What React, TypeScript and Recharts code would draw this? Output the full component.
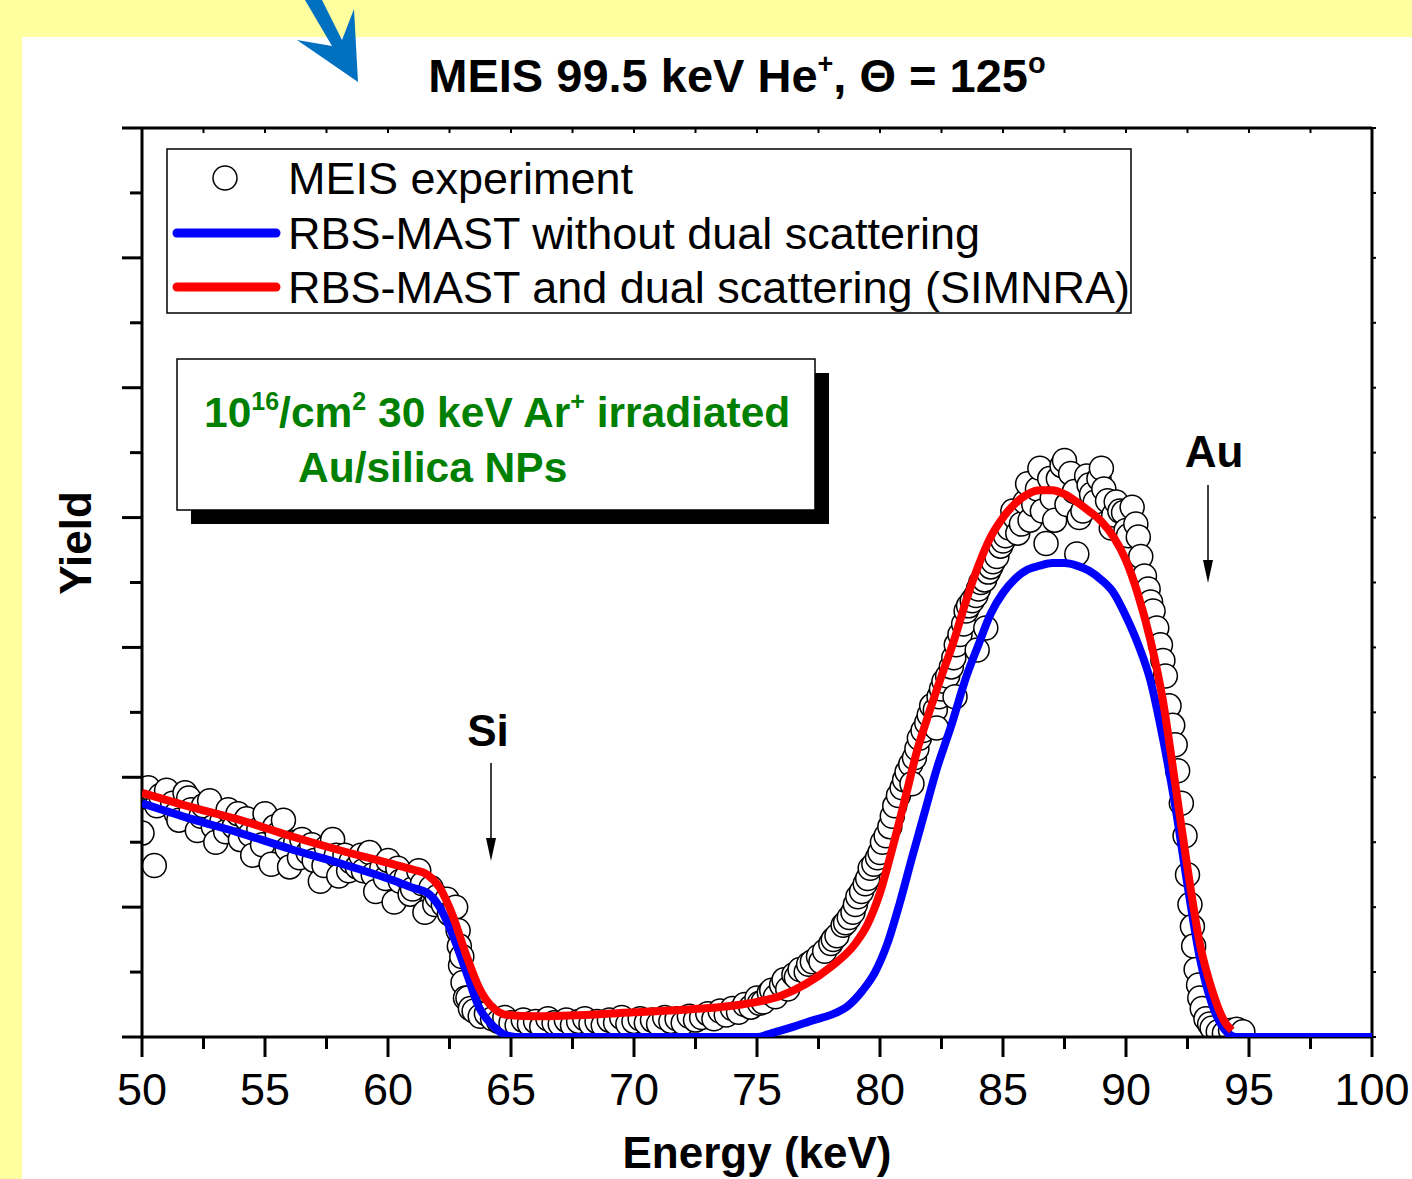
import React from "react";
import { ComposedChart, Line, Scatter, XAxis, YAxis } from "recharts";

const FONT = '"Liberation Sans", Arial, sans-serif';

// energy axis (keV) and yield axis (arbitrary units, no labels)
const energyTicks = [50, 52.5, 55, 57.5, 60, 62.5, 65, 67.5, 70, 72.5, 75, 77.5, 80, 82.5, 85, 87.5, 90, 92.5, 95, 97.5, 100];
const energyLabels = [50, 55, 60, 65, 70, 75, 80, 85, 90, 95, 100];
const yieldTicks = [0, 0.5, 1, 1.5, 2, 2.5, 3, 3.5, 4, 4.5, 5, 5.5, 6, 6.5, 7];

// RBS-MAST without dual scattering
const blueCurve: [number, number][] = [
  [50, 1.8], [52, 1.68], [54, 1.57], [56, 1.45], [58, 1.34], [60, 1.22], [61, 1.15], [61.6, 1.11],
  [62.1, 1.0], [62.6, 0.8], [63.2, 0.49], [63.7, 0.23], [64.3, 0.08], [64.85, 0.01], [65.2, 0],
  [70, 0], [75, 0], [75.6, 0.03], [76.5, 0.08], [77.3, 0.13], [78, 0.17], [78.7, 0.24], [79.3, 0.36],
  [79.8, 0.5], [80.3, 0.72], [80.8, 1.03], [81.3, 1.38], [81.8, 1.72], [82.3, 2.06], [82.9, 2.4],
  [83.5, 2.77], [84, 3.02], [84.5, 3.26], [85, 3.42], [85.5, 3.53], [86, 3.6], [86.5, 3.63],
  [87, 3.65], [87.5, 3.65], [88, 3.63], [88.5, 3.59], [89, 3.52], [89.5, 3.42], [90, 3.24],
  [90.5, 3.02], [91, 2.74], [91.5, 2.3], [92, 1.78], [92.5, 1.17], [93, 0.61], [93.5, 0.25],
  [94, 0.06], [94.5, 0], [97, 0], [100, 0],
];

// RBS-MAST and dual scattering (SIMNRA)
const redCurve: [number, number][] = [
  [50, 1.88], [52, 1.77], [54, 1.67], [56, 1.55], [58, 1.44], [60, 1.34], [61, 1.29], [61.6, 1.25],
  [62.1, 1.15], [62.6, 0.95], [63.2, 0.62], [63.7, 0.38], [64.3, 0.22], [64.85, 0.17], [66, 0.16],
  [68, 0.17], [70, 0.19], [72, 0.21], [74, 0.24], [75, 0.27], [76, 0.32], [77, 0.41], [78, 0.54],
  [79, 0.72], [79.5, 0.87], [80, 1.11], [80.5, 1.45], [81, 1.82], [81.5, 2.2], [82, 2.5],
  [82.5, 2.78], [83, 3.05], [83.5, 3.36], [84, 3.63], [84.5, 3.85], [85, 4.0], [85.5, 4.11],
  [86, 4.18], [86.5, 4.21], [87, 4.21], [87.5, 4.18], [88, 4.12], [88.5, 4.05], [89, 3.97],
  [89.5, 3.85], [90, 3.67], [90.5, 3.4], [91, 3.05], [91.5, 2.59], [92, 1.95], [92.5, 1.3],
  [93, 0.72], [93.5, 0.36], [94, 0.12], [94.3, 0.05],
];

// MEIS experiment
const measured: [number, number][] = [
  [50, 1.57], [50.1, 1.85], [50.25, 1.92], [50.5, 1.32], [50.6, 1.78], [50.75, 1.86], [51, 1.9], [51.25, 1.8],
  [51.4, 1.72], [51.5, 1.67], [51.75, 1.88], [51.9, 1.84], [52, 1.75], [52.25, 1.59], [52.4, 1.7], [52.5, 1.78],
  [52.75, 1.82], [52.9, 1.62], [53, 1.5], [53.25, 1.66], [53.4, 1.58], [53.5, 1.75], [53.75, 1.62], [53.9, 1.72],
  [54, 1.52], [54.25, 1.68], [54.4, 1.56], [54.5, 1.4], [54.75, 1.6], [54.9, 1.48], [55, 1.72], [55.25, 1.33],
  [55.4, 1.62], [55.5, 1.56], [55.75, 1.67], [55.9, 1.45], [56, 1.31], [56.25, 1.5], [56.4, 1.38], [56.5, 1.52],
  [56.75, 1.42], [56.9, 1.48], [57, 1.36], [57.25, 1.2], [57.4, 1.32], [57.5, 1.46], [57.75, 1.52], [57.9, 1.4],
  [58, 1.24], [58.25, 1.4], [58.4, 1.28], [58.5, 1.35], [58.75, 1.31], [58.9, 1.4], [59, 1.28], [59.25, 1.42],
  [59.4, 1.25], [59.5, 1.12], [59.75, 1.3], [59.9, 1.22], [60, 1.36], [60.25, 1.04], [60.4, 1.3], [60.5, 1.2],
  [60.75, 1.23], [60.9, 1.1], [61, 1.14], [61.25, 1.28], [61.4, 1.18], [61.5, 0.96], [61.75, 1.15], [61.9, 1.02],
  [62, 1.08], [62.25, 1.02], [62.4, 1.06], [62.5, 0.95], [62.75, 1.0], [62.85, 0.82], [62.9, 0.7], [62.95, 0.55],
  [63, 0.62], [63.05, 0.42], [63.15, 0.3], [63.25, 0.3], [63.35, 0.22], [63.5, 0.2], [63.75, 0.16], [64, 0.18],
  [64.25, 0.14], [64.5, 0.12], [64.75, 0.15], [65, 0.11], [65.25, 0.09], [65.5, 0.13], [65.75, 0.1], [66, 0.12],
  [66.25, 0.08], [66.5, 0.14], [66.75, 0.11], [67, 0.1], [67.25, 0.13], [67.5, 0.09], [67.75, 0.12], [68, 0.14],
  [68.25, 0.1], [68.5, 0.12], [68.75, 0.09], [69, 0.13], [69.25, 0.11], [69.5, 0.15], [69.75, 0.1], [70, 0.12],
  [70.25, 0.14], [70.5, 0.11], [70.75, 0.13], [71, 0.1], [71.25, 0.15], [71.5, 0.12], [71.75, 0.14], [72, 0.11],
  [72.25, 0.16], [72.5, 0.13], [72.75, 0.15], [73, 0.18], [73.25, 0.14], [73.5, 0.2], [73.75, 0.17], [74, 0.22],
  [74.25, 0.19], [74.5, 0.25], [74.75, 0.23], [75, 0.3], [75.1, 0.26], [75.25, 0.27], [75.5, 0.34], [75.6, 0.36],
  [75.75, 0.31], [76, 0.4], [76.1, 0.44], [76.25, 0.37], [76.5, 0.48], [76.6, 0.46], [76.75, 0.52], [77, 0.5],
  [77.1, 0.56], [77.25, 0.58], [77.5, 0.62], [77.6, 0.58], [77.75, 0.66], [78, 0.72], [78.1, 0.75], [78.25, 0.78],
  [78.5, 0.86], [78.6, 0.88], [78.75, 0.92], [78.9, 0.96], [79, 1.02], [79.1, 1.08], [79.25, 1.12], [79.4, 1.18],
  [79.5, 1.22], [79.6, 1.3], [79.75, 1.33], [79.9, 1.38], [80, 1.42], [80.1, 1.5], [80.25, 1.55], [80.4, 1.62],
  [80.5, 1.7], [80.6, 1.78], [80.75, 1.86], [80.9, 1.92], [81, 1.98], [81.1, 2.04], [81.25, 2.1], [81.3, 1.95],
  [81.4, 2.15], [81.5, 2.22], [81.6, 2.3], [81.75, 2.36], [81.9, 2.42], [82, 2.48], [82.1, 2.55], [82.25, 2.52],
  [82.3, 2.38], [82.4, 2.62], [82.5, 2.68], [82.6, 2.74], [82.75, 2.78], [82.9, 2.85], [83, 2.92], [83.05, 2.62],
  [83.1, 3.02], [83.25, 3.1], [83.4, 3.18], [83.5, 3.28], [83.6, 3.32], [83.75, 3.36], [83.9, 3.4], [83.95, 2.98],
  [84, 3.45], [84.1, 3.5], [84.25, 3.52], [84.3, 3.15], [84.4, 3.58], [84.5, 3.62], [84.6, 3.66], [84.75, 3.7],
  [84.9, 3.78], [85, 3.82], [85.1, 3.86], [85.25, 3.92], [85.4, 4.05], [85.5, 4.0], [85.6, 3.88], [85.75, 3.95],
  [85.9, 4.12], [86, 4.26], [86.1, 3.98], [86.25, 4.1], [86.4, 4.22], [86.5, 4.38], [86.6, 4.05], [86.75, 3.8],
  [86.9, 4.3], [87, 4.15], [87.1, 3.98], [87.25, 4.3], [87.4, 4.4], [87.5, 4.44], [87.6, 4.1], [87.75, 4.34],
  [87.9, 4.2], [88, 3.72], [88.1, 4.0], [88.25, 4.05], [88.4, 4.32], [88.5, 4.25], [88.6, 4.18], [88.75, 4.12],
  [88.9, 4.3], [89, 4.38], [89.1, 4.22], [89.25, 4.13], [89.4, 3.92], [89.5, 4.02], [89.6, 4.12], [89.75, 4.05],
  [89.9, 4.04], [90, 3.9], [90.1, 3.86], [90.25, 4.08], [90.4, 3.95], [90.5, 3.85], [90.6, 3.7], [90.75, 3.55],
  [90.9, 3.45], [91, 3.35], [91.1, 3.28], [91.25, 3.15], [91.4, 3.02], [91.5, 2.9], [91.6, 2.78], [91.75, 2.55],
  [91.9, 2.4], [92, 2.25], [92.1, 2.05], [92.25, 1.8], [92.4, 1.55], [92.5, 1.25], [92.6, 1.02], [92.7, 0.85],
  [92.75, 0.7], [92.85, 0.52], [92.95, 0.4], [93, 0.3], [93.1, 0.22], [93.25, 0.14], [93.4, 0.1], [93.5, 0.07],
  [93.75, 0.04], [94, 0.03], [94.25, 0.05], [94.5, 0.06], [94.75, 0.04],
];

const toRows = (pts: [number, number][]) => pts.map(([e, y]) => ({ e, y }));
const blueData = toRows(blueCurve);
const redData = toRows(redCurve);
const expData = toRows(measured);

const isMajor = (v: number) => Math.abs(v - Math.round(v)) < 1e-6;

const BottomTick = (p: any) => {
  const v = p.payload.value;
  const major = energyLabels.includes(v);
  return (
    <g>
      <line x1={p.x} x2={p.x} y1={p.y} y2={p.y + (major ? 20 : 12)} stroke="#000" strokeWidth={3} />
      {major && (
        <text x={p.x} y={p.y + 68} textAnchor="middle" fontSize={45} fontFamily={FONT} fill="#000">
          {v}
        </text>
      )}
    </g>
  );
};

const LeftTick = (p: any) => {
  const len = isMajor(p.payload.value) ? 20 : 12;
  return <line x1={p.x} x2={p.x - len} y1={p.y} y2={p.y} stroke="#000" strokeWidth={3} />;
};

const TopTick = (p: any) => <line x1={p.x} x2={p.x} y1={p.y} y2={p.y + 5} stroke="#000" strokeWidth={2} />;
const RightTick = (p: any) => <line x1={p.x} x2={p.x + 4} y1={p.y} y2={p.y} stroke="#000" strokeWidth={2} />;

const OpenCircle = (p: any) => (
  <circle cx={p.cx} cy={p.cy} r={12} fill="#fff" stroke="#000" strokeWidth={1.5} />
);

const axisLine = { stroke: "#000", strokeWidth: 3 };

export default function App() {
  return (
    <div style={{ position: "absolute", left: 0, top: 0, width: 1412, height: 1179, background: "#ffff9f", overflow: "hidden", fontFamily: FONT }}>
      <div style={{ position: "absolute", left: 22, top: 37, right: 0, bottom: 0, background: "#fff" }} />
      <div style={{ position: "absolute", left: 0, top: 0 }}>
        <ComposedChart width={1412} height={1179} margin={{ top: 108, right: 0, bottom: 82, left: 82 }}>
          <XAxis xAxisId="b" dataKey="e" type="number" domain={[50, 100]} allowDataOverflow ticks={energyTicks}
            interval={0} height={60} axisLine={axisLine} tickLine={false} tickSize={0} tickMargin={0} tick={BottomTick} />
          <XAxis xAxisId="t" orientation="top" dataKey="e" type="number" domain={[50, 100]} allowDataOverflow ticks={energyTicks}
            interval={0} height={20} axisLine={axisLine} tickLine={false} tickSize={0} tickMargin={0} tick={TopTick} />
          <YAxis yAxisId="l" dataKey="y" type="number" domain={[0, 7]} allowDataOverflow ticks={yieldTicks}
            interval={0} width={60} axisLine={axisLine} tickLine={false} tickSize={0} tickMargin={0} tick={LeftTick} />
          <YAxis yAxisId="r" orientation="right" dataKey="y" type="number" domain={[0, 7]} allowDataOverflow ticks={yieldTicks}
            interval={0} width={40} axisLine={axisLine} tickLine={false} tickSize={0} tickMargin={0} tick={RightTick} />
          <Scatter xAxisId="b" yAxisId="l" data={expData} dataKey="y" shape={OpenCircle} isAnimationActive={false} zIndex={300} />
          <Line xAxisId="b" yAxisId="l" data={blueData} dataKey="y" type="monotone" stroke="#0000ff" strokeWidth={8}
            dot={false} activeDot={false} isAnimationActive={false} zIndex={700} />
          <Line xAxisId="b" yAxisId="l" data={redData} dataKey="y" type="monotone" stroke="#ff0000" strokeWidth={8}
            dot={false} activeDot={false} isAnimationActive={false} zIndex={710} />
        </ComposedChart>
      </div>
      <svg width={1412} height={1179} style={{ position: "absolute", left: 0, top: 0, pointerEvents: "none" }}>
        <polygon points="305,0 322,0 342,40 354,9 358,82 297,40 332,46" fill="#0070c0" />
        <text x={737} y={92} textAnchor="middle" fontSize={47} fontWeight="bold" fontFamily={FONT}>
          MEIS 99.5 keV He<tspan dy={-19} fontSize={27}>+</tspan><tspan dy={19}>, Θ = 125</tspan>
          <tspan dy={-19} fontSize={29}>o</tspan>
        </text>
        <text transform="translate(91,543) rotate(-90)" textAnchor="middle" fontSize={44} fontWeight="bold" fontFamily={FONT}>Yield</text>
        <text x={757} y={1168} textAnchor="middle" fontSize={44} fontWeight="bold" fontFamily={FONT}>Energy (keV)</text>

        <rect x={167} y={149} width={964} height={164} fill="#fff" stroke="#000" strokeWidth={1.5} />
        <circle cx={225} cy={178} r={12} fill="#fff" stroke="#000" strokeWidth={1.5} />
        <line x1={177} x2={276} y1={233} y2={233} stroke="#0000ff" strokeWidth={9} strokeLinecap="round" />
        <line x1={177} x2={276} y1={287} y2={287} stroke="#ff0000" strokeWidth={9} strokeLinecap="round" />
        <g fontSize={45} fontFamily={FONT} fill="#000">
          <text x={288} y={194}>MEIS experiment</text>
          <text x={288} y={249}>RBS-MAST without dual scattering</text>
          <text x={288} y={303}>RBS-MAST and dual scattering (SIMNRA)</text>
        </g>

        <rect x={191} y={373} width={638} height={151} fill="#000" />
        <rect x={177} y={359} width={638} height={151} fill="#fff" stroke="#000" strokeWidth={1.5} />
        <g fontSize={42.5} fontWeight="bold" fontFamily={FONT} fill="#008000">
          <text x={204} y={427}>
            10<tspan dy={-17} fontSize={25}>16</tspan><tspan dy={17}>/cm</tspan><tspan dy={-17} fontSize={25}>2</tspan>
            <tspan dy={17}> 30 keV Ar</tspan><tspan dy={-17} fontSize={25}>+</tspan><tspan dy={17}> irradiated</tspan>
          </text>
          <text x={298} y={482}>Au/silica NPs</text>
        </g>

        <g fontSize={44} fontWeight="bold" fontFamily={FONT}>
          <text x={488} y={746} textAnchor="middle">Si</text>
          <text x={1214} y={467} textAnchor="middle">Au</text>
        </g>
        <line x1={491} x2={491} y1={763} y2={845} stroke="#000" strokeWidth={1.5} />
        <polygon points="486,838 496,838 491,861" fill="#000" />
        <line x1={1208} x2={1208} y1={485} y2={567} stroke="#000" strokeWidth={1.5} />
        <polygon points="1203,560 1213,560 1208,583" fill="#000" />
      </svg>
    </div>
  );
}
